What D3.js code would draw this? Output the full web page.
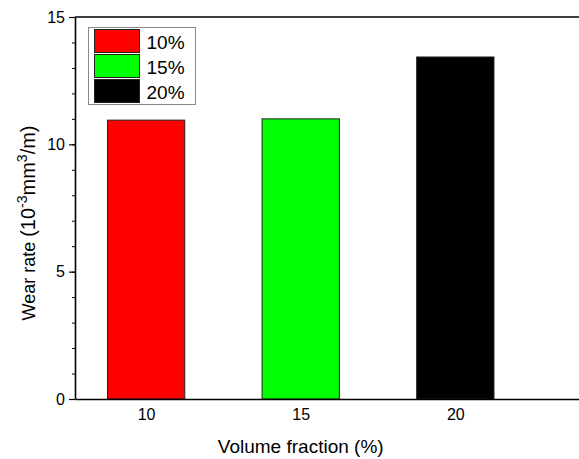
<!DOCTYPE html>
<html lang="en">
<head>
  <meta charset="utf-8">
  <title>Wear rate</title>
  <script src="https://cdnjs.cloudflare.com/ajax/libs/d3/7.8.5/d3.min.js"></script>
  <style>
    body { margin: 0; background: #fff; }
    text { font-family: Arial, "Liberation Sans", sans-serif; fill: #000; }
    .axis path, .axis line { stroke: #000; }
  </style>
</head>
<body>
  <svg id="chart" width="579" height="459"></svg>
  <script>
    // data
    var categories = [10, 15, 20];
    var wearRate = [10.95, 11.0, 13.43];
    var legendLabels = ["10%", "15%", "20%"];
    var barColors = ["#ff0000", "#00ff00", "#000000"];
    var yTicks = [0, 5, 10, 15];

    var margin = { top: 17, right: 0, bottom: 60, left: 75 },
      width = 579 - margin.left - margin.right,
      height = 459 - margin.top - margin.bottom;

    var svg = d3.select("#chart");
    var g = svg.append("g")
      .attr("transform", "translate(" + margin.left + "," + margin.top + ")");

    // x is numeric (volume fraction), bars 2.5 units wide
    var x = d3.scaleLinear().domain([7.7, 24]).range([0, width]);
    var y = d3.scaleLinear().domain([0, 15]).range([height, 0]);
    var barW = 2.5;

    // bars
    g.selectAll(".bar")
      .data(categories)
      .enter().append("rect")
      .attr("class", "bar")
      .attr("x", function (d) { return x(d - barW / 2); })
      .attr("width", function (d) { return x(d + barW / 2) - x(d - barW / 2); })
      .attr("y", function (d, i) { return y(wearRate[i]); })
      .attr("height", function (d, i) { return height - y(wearRate[i]); })
      .attr("fill", function (d, i) { return barColors[i]; })
      .attr("stroke", "#222")
      .attr("stroke-width", 1);

    // minor y ticks
    var yMinor = g.append("g")
      .attr("class", "axis")
      .call(d3.axisLeft(y).ticks(15).tickSize(3).tickFormat(""));
    yMinor.select(".domain").remove();

    // major y ticks + labels
    var yAxis = g.append("g")
      .attr("class", "axis")
      .call(d3.axisLeft(y).tickValues(yTicks).tickSize(6).tickPadding(4).tickSizeOuter(0));
    yAxis.selectAll("text").style("font-size", "16px");
    yAxis.select(".domain").attr("stroke-width", 1.6);
    yAxis.selectAll(".tick line").attr("stroke-width", 1.2);

    // bottom axis, labels only
    var xAxis = g.append("g")
      .attr("class", "axis")
      .attr("transform", "translate(0," + height + ")")
      .call(d3.axisBottom(x).tickValues(categories).tickSize(0).tickPadding(10).tickSizeOuter(0));
    xAxis.selectAll("text").style("font-size", "16px");
    xAxis.select(".domain").attr("stroke-width", 1.6);

    // top frame line
    g.append("line")
      .attr("x1", 0).attr("x2", width)
      .attr("y1", 0).attr("y2", 0)
      .attr("stroke", "#000")
      .attr("stroke-width", 1.6);

    // axis titles
    svg.append("text")
      .attr("x", margin.left + x(15))
      .attr("y", 453)
      .attr("text-anchor", "middle")
      .style("font-size", "19px")
      .text("Volume fraction (%)");

    var yTitle = svg.append("text")
      .attr("transform", "translate(35,223) rotate(-90)")
      .attr("text-anchor", "middle")
      .style("font-size", "18px");
    yTitle.append("tspan").text("Wear rate ");
    yTitle.append("tspan").style("font-size", "20px").text("(10");
    yTitle.append("tspan").attr("dy", -8).style("font-size", "14px").text("-3");
    yTitle.append("tspan").attr("dy", 8).style("font-size", "20px").text("mm");
    yTitle.append("tspan").attr("dy", -8).style("font-size", "14px").text("3");
    yTitle.append("tspan").attr("dy", 8).style("font-size", "20px").text("/m)");

    // legend
    var legend = svg.append("g").attr("transform", "translate(88.5,27.5)");
    legend.append("rect")
      .attr("width", 107).attr("height", 77)
      .attr("fill", "#fff")
      .attr("stroke", "#888")
      .attr("stroke-width", 1);
    var items = legend.selectAll(".item")
      .data(legendLabels)
      .enter().append("g")
      .attr("transform", function (d, i) { return "translate(6," + (2 + i * 25) + ")"; });
    items.append("rect")
      .attr("width", 45).attr("height", 23)
      .attr("fill", function (d, i) { return barColors[i]; })
      .attr("stroke", "#222");
    items.append("text")
      .attr("x", 52).attr("y", 19)
      .style("font-size", "19px")
      .text(function (d) { return d; });
  </script>
</body>
</html>
